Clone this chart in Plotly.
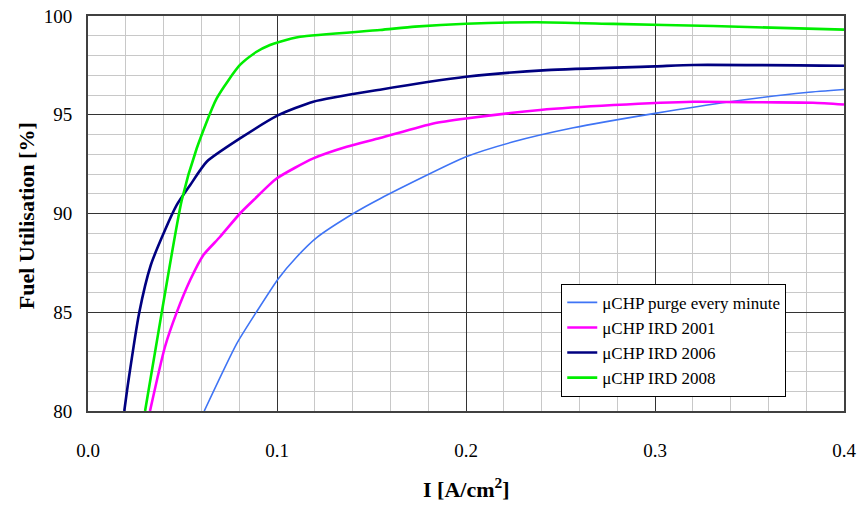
import plotly.graph_objects as go

# Data
purge_x = [0.0615, 0.0787, 0.0889, 0.1007, 0.1104, 0.121, 0.1404, 0.1545, 0.2, 0.225, 0.2568, 0.300, 0.3397, 0.380, 0.4]
purge_y = [80.0, 83.41, 84.98, 86.7, 87.8, 88.78, 90.0, 90.75, 92.87, 93.63, 94.34, 95.07, 95.66, 96.13, 96.28]

ird2001_x = [0.0328, 0.0407, 0.0469, 0.054, 0.061, 0.0698, 0.0804, 0.0875, 0.0998, 0.1192, 0.1369, 0.1545, 0.1827, 0.2, 0.2392, 0.278, 0.3203, 0.357, 0.3836, 0.4]
ird2001_y = [80.0, 83.24, 84.98, 86.62, 87.89, 88.81, 90.0, 90.67, 91.77, 92.79, 93.38, 93.82, 94.56, 94.81, 95.24, 95.49, 95.66, 95.63, 95.61, 95.52]

ird2006_x = [0.0192, 0.0213, 0.0271, 0.0332, 0.0407, 0.0469, 0.054, 0.0628, 0.0804, 0.1007, 0.1192, 0.1545, 0.2, 0.2427, 0.3002, 0.3203, 0.4]
ird2006_y = [80.0, 81.47, 84.98, 87.38, 89.15, 90.42, 91.43, 92.62, 93.8, 94.98, 95.66, 96.27, 96.92, 97.26, 97.45, 97.52, 97.48]

ird2008_x = [0.0302, 0.039, 0.0496, 0.0575, 0.0681, 0.0804, 0.0892, 0.0963, 0.1016, 0.1122, 0.1545, 0.173, 0.2, 0.2374, 0.278, 0.3308, 0.4]
ird2008_y = [80.0, 84.98, 90.67, 93.29, 95.83, 97.52, 98.19, 98.53, 98.7, 98.95, 99.29, 99.46, 99.61, 99.68, 99.6, 99.49, 99.31]

x_ticks = [0.0, 0.1, 0.2, 0.3, 0.4]
x_tick_labels = ["0.0", "0.1", "0.2", "0.3", "0.4"]
y_ticks = [80, 85, 90, 95, 100]

FONT = "Liberation Serif, Times New Roman, serif"

fig = go.Figure()
series = [
    ("μCHP purge every minute", purge_x, purge_y, "#3f74f5", 1.6),
    ("μCHP IRD 2001", ird2001_x, ird2001_y, "#ff00ff", 2.6),
    ("μCHP IRD 2006", ird2006_x, ird2006_y, "#000080", 2.6),
    ("μCHP IRD 2008", ird2008_x, ird2008_y, "#00ee00", 2.6),
]
for i, (name, xs, ys, col, w) in enumerate(series):
    fig.add_trace(go.Scatter(x=xs, y=ys, mode="lines", name=name,
                             line=dict(color=col, width=w, shape="spline", smoothing=0.6),
                             legendgroup=f"g{i}"))

fig.update_layout(
    width=859, height=505,
    margin=dict(l=88, r=15, t=16, b=94),
    paper_bgcolor="white", plot_bgcolor="white",
    font=dict(family=FONT, color="black", size=19),
    showlegend=True,
    legend=dict(x=0.626, y=0.322, xanchor="left", yanchor="top",
                bgcolor="white", bordercolor="black", borderwidth=1,
                font=dict(family=FONT, size=17, color="black"),
                itemwidth=30, tracegroupgap=7, traceorder="normal"),
    annotations=[
        dict(text="<b>I [A/cm<sup>2</sup>]</b>", xref="paper", yref="paper",
             x=0.5, y=-0.196, xanchor="center", yanchor="middle", showarrow=False,
             font=dict(family=FONT, size=22, color="black")),
        dict(text="<b>Fuel Utilisation [%]</b>", xref="paper", yref="paper",
             x=-0.082, y=0.493, xanchor="center", yanchor="middle", showarrow=False,
             textangle=-90, font=dict(family=FONT, size=22, color="black")),
    ],
)
fig.update_xaxes(
    range=[0, 0.4], tickvals=x_ticks, ticktext=x_tick_labels,
    showgrid=True, gridcolor="#333333", gridwidth=1,
    minor=dict(dtick=0.02, showgrid=True, gridcolor="#c8c8c8", gridwidth=1),
    showline=True, linecolor="#404040", linewidth=2, mirror=True,
    ticks="outside", ticklen=21, tickcolor="rgba(0,0,0,0)",
    tickfont=dict(family=FONT, size=19),
    zeroline=False, automargin=False,
)
fig.update_yaxes(
    range=[80, 100], tickvals=y_ticks,
    showgrid=True, gridcolor="#333333", gridwidth=1,
    minor=dict(dtick=1, showgrid=True, gridcolor="#c8c8c8", gridwidth=1),
    showline=True, linecolor="#404040", linewidth=2, mirror=True,
    ticks="outside", ticklen=10, tickcolor="rgba(0,0,0,0)",
    tickfont=dict(family=FONT, size=19),
    zeroline=False, automargin=False,
)

fig.write_html("out.html", config={"displayModeBar": False},
               post_script="document.body.style.margin='0';document.body.style.overflow='hidden';")
